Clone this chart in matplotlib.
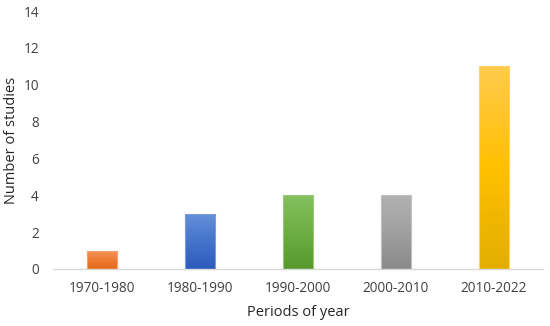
import matplotlib
matplotlib.use("Agg")
import matplotlib.pyplot as plt
import numpy as np
from matplotlib.colors import LinearSegmentedColormap

categories = ["1970-1980", "1980-1990", "1990-2000", "2000-2010", "2010-2022"]
values = [1, 3, 4, 4, 11]
# gradient colours (top, middle, bottom)
grad_colors = [
    ("#F59A5E", "#F07B33", "#E36A1C"),
    ("#6690D8", "#4474CC", "#2C5BBE"),
    ("#86C060", "#6DAE43", "#56992E"),
    ("#B2B2B2", "#A0A0A0", "#8A8A8A"),
    ("#FFCA4D", "#FFC000", "#E2AE00"),
]
edge_colors = ["#F4A070", "#7A9CDC", "#98C878", "#C0C0C0", "#FFD560"]

plt.rcParams['font.family'] = ['Open Sans', 'DejaVu Sans']

fig = plt.figure(figsize=(5.5, 3.26), dpi=100)
ax = fig.add_axes([0.096, 0.175, 0.891, 0.791])

x = np.arange(len(categories))
bars = ax.bar(x, values, width=0.31, color="none", edgecolor="none", zorder=2)

for b, cols, ec in zip(bars, grad_colors, edge_colors):
    x0 = b.get_x()
    w = b.get_width()
    h = b.get_height()
    cmap = LinearSegmentedColormap.from_list("g", [cols[2], cols[1], cols[0]])
    grad = np.linspace(0, 1, 256).reshape(-1, 1)
    im = ax.imshow(grad, cmap=cmap, origin="lower", aspect="auto",
                   extent=(x0, x0 + w, 0, h), zorder=2, interpolation="bicubic")
    im.set_clip_path(b)
    ax.add_patch(plt.Rectangle((x0, 0), w, h, fill=False, edgecolor=ec,
                               linewidth=0.8, zorder=3))

ax.set_xlim(-0.5, len(categories) - 0.5)
ax.set_ylim(0, 14)
ax.set_yticks(np.arange(0, 15, 2))
ax.set_xticks(x)
ax.set_xticklabels(categories)

for s in ["top", "right", "left"]:
    ax.spines[s].set_visible(False)
ax.spines["bottom"].set_color("#D9D9D9")
ax.spines["bottom"].set_linewidth(1.0)
ax.tick_params(axis="both", length=0, labelsize=9.8, colors="#404040", labelcolor="#404040")
ax.tick_params(axis="x", pad=9)
ax.tick_params(axis="y", pad=10)

ax.set_xlabel("Periods of year", fontsize=10.5, color="#262626", labelpad=6)
ax.set_ylabel("Number of studies", fontsize=10.5, color="#262626")
ax.yaxis.set_label_coords(-0.068, 0.5)

fig.savefig("out.png", dpi=100)
